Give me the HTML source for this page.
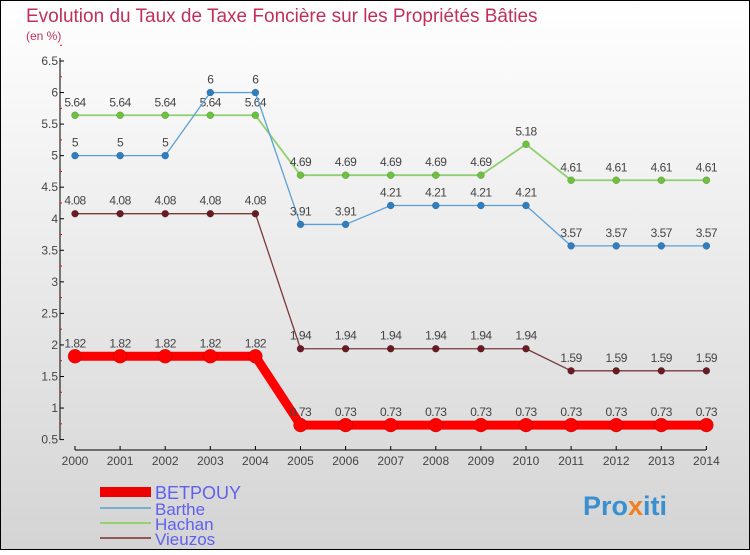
<!DOCTYPE html>
<html><head><meta charset="utf-8"><style>
html,body{margin:0;padding:0}
body{width:750px;height:550px;overflow:hidden;font-family:"Liberation Sans",sans-serif}
</style></head><body>
<svg id="chart" width="750" height="550" xmlns="http://www.w3.org/2000/svg">
<defs><linearGradient id="bg" x1="0" y1="0" x2="0" y2="1"><stop offset="0" stop-color="#ffffff"/><stop offset="1" stop-color="#d4d4d4"/></linearGradient></defs>
<rect x="0.5" y="0.5" width="749" height="549" fill="url(#bg)" stroke="#000"/>
<text x="26" y="22" font-size="19" fill="#c0305a">Evolution du Taux de Taxe Foncière sur les Propriétés Bâties</text>
<text x="26" y="40" font-size="12" fill="#c0305a">(en %)</text>
<g id="axes"></g><g id="series"></g><g id="legend"></g>
<text x="583" y="515" font-size="27" font-weight="bold" fill="#3a8fd0">Pro<tspan fill="#f08020">x</tspan>iti</text>
</svg>
<script>
const years=[2000,2001,2002,2003,2004,2005,2006,2007,2008,2009,2010,2011,2012,2013,2014];
const betpouy=[1.82,1.82,1.82,1.82,1.82,0.73,0.73,0.73,0.73,0.73,0.73,0.73,0.73,0.73,0.73];
const barthe=[5,5,5,6,6,3.91,3.91,4.21,4.21,4.21,4.21,3.57,3.57,3.57,3.57];
const hachan=[5.64,5.64,5.64,5.64,5.64,4.69,4.69,4.69,4.69,4.69,5.18,4.61,4.61,4.61,4.61];
const vieuzos=[4.08,4.08,4.08,4.08,4.08,1.94,1.94,1.94,1.94,1.94,1.94,1.59,1.59,1.59,1.59];
const yTicks=[0.5,1,1.5,2,2.5,3,3.5,4,4.5,5,5.5,6,6.5];
const NS="http://www.w3.org/2000/svg";
const xs=i=>75+i*45.1;
const ys=v=>61+(6.5-v)*63.1;
function mk(tag,attrs,parent){const e=document.createElementNS(NS,tag);for(const k in attrs)e.setAttribute(k,attrs[k]);parent.appendChild(e);return e;}
const ax=document.getElementById('axes');
let l=mk('line',{x1:60,y1:58,x2:60,y2:440,stroke:'#000','stroke-width':1},ax);


l=mk('line',{x1:75,y1:450,x2:706,y2:450,stroke:'#000','stroke-width':1},ax);


yTicks.forEach(v=>{
 mk('line',{x1:60,y1:ys(v),x2:64,y2:ys(v),stroke:'#000'},ax);
 mk('line',{x1:60,y1:ys(v+0.25),x2:62,y2:ys(v+0.25),stroke:'#f00'},ax);
 const t=mk('text',{x:58,y:ys(v)+4,'font-size':12,'text-anchor':'end',fill:'#444'},ax);
 t.textContent=String(v);
 
 
});
years.forEach((y,i)=>{
 mk('line',{x1:xs(i),y1:446,x2:xs(i),y2:450,stroke:'#000'},ax);
 const t=mk('text',{x:xs(i),y:465,'font-size':12,'text-anchor':'middle',fill:'#444'},ax);
 t.textContent=String(y);
 
 
});
const sg=document.getElementById('series');
const defs=[
 {name:'vieuzos',data:vieuzos,line:'#7a3a3a',dot:'#6a1a22',w:1.3,r:3.5},
 {name:'hachan',data:hachan,line:'#90d070',dot:'#6cc23c',w:1.8,r:3.5},
 {name:'barthe',data:barthe,line:'#5aa0d8',dot:'#2f7fc0',w:1.3,r:3.5},
 {name:'betpouy',data:betpouy,line:'#ff0000',dot:'#ff0000',w:9,r:7}
];
defs.forEach(s=>{
 const p=mk('polyline',{points:s.data.map((v,i)=>xs(i)+','+ys(v)).join(' '),fill:'none',stroke:s.line,'stroke-width':s.w,'stroke-linejoin':'round'},sg);
 
 
 s.data.forEach((v,i)=>{
  const c=mk('circle',{cx:xs(i),cy:ys(v),r:s.r,fill:s.dot,stroke:'rgba(0,0,0,0.3)','stroke-width':0.5},sg);
  
  
  const t=mk('text',{x:xs(i),y:ys(v)-9,'font-size':12,'text-anchor':'middle',fill:'#444','letter-spacing':'-0.5'},sg);
  t.textContent=String(v);
  
  
 });
});
const lg=document.getElementById('legend');
const leg=[['BETPOUY','#ee0000',10,492],['Barthe','#7aaed0',2,508],['Hachan','#98d070',2,523],['Vieuzos','#905858',2,538]];
leg.forEach(e=>{
 const r=mk('line',{x1:100,y1:e[3],x2:151,y2:e[3],stroke:e[1],'stroke-width':e[2]},lg);
 
 
 const t=mk('text',{x:155,y:e[3]+7,'font-size':e[0]==='BETPOUY'?18:17,fill:'#6060f0'},lg);
 t.textContent=e[0];
 
 
});
</script>
</body></html>
